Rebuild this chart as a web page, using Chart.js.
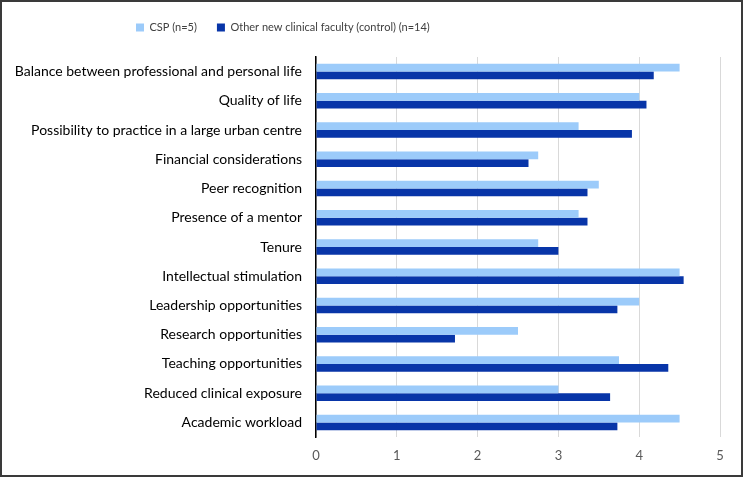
<!DOCTYPE html>
<html>
<head>
<meta charset="utf-8">
<script src="https://cdn.jsdelivr.net/npm/chart.js@4/dist/chart.umd.min.js"></script>
<style>
  html, body { margin: 0; padding: 0; background: #fff; }
  #wrap { position: relative; width: 743px; height: 477px; }
  #frame { position: absolute; left: 0; top: 0; right: 0; bottom: 0; border: 2px solid #3a3a3a; pointer-events: none; box-sizing: border-box; }
  canvas { position: absolute; left: 0; top: 0; }
</style>
</head>
<body>
<div id="wrap">
  <canvas id="chart" width="743" height="477"></canvas>
  <div id="frame"></div>
</div>
<script>
const categories = [
  'Balance between professional and personal life',
  'Quality of life',
  'Possibility to practice in a large urban centre',
  'Financial considerations',
  'Peer recognition',
  'Presence of a mentor',
  'Tenure',
  'Intellectual stimulation',
  'Leadership opportunities',
  'Research opportunities',
  'Teaching opportunities',
  'Reduced clinical exposure',
  'Academic workload'
];
const cspValues = [4.5, 4.0, 3.25, 2.75, 3.5, 3.25, 2.75, 4.5, 4.0, 2.5, 3.75, 3.0, 4.5];
const controlValues = [4.18, 4.09, 3.91, 2.63, 3.36, 3.36, 3.0, 4.55, 3.73, 1.72, 4.36, 3.64, 3.73];
const seriesNames = ['CSP (n=5)', 'Other new clinical faculty (control) (n=14)'];
const xTicks = [0, 1, 2, 3, 4, 5];

const FONT = 'Lato, "DejaVu Sans", sans-serif';

// legend sits higher than the plot and left of centre
const legendPlace = {
  id: 'legendPlace',
  beforeInit(chart) {
    const fit = chart.legend.fit;
    chart.legend.fit = function () {
      fit.call(this);
      this.height += 14;
    };
  },
  afterLayout(chart) {
    chart.legend.left = 116;
  }
};

new Chart(document.getElementById('chart'), {
  type: 'bar',
  data: {
    labels: categories,
    datasets: [{
      label: seriesNames[0],
      data: cspValues,
      backgroundColor: '#9ccbfa',
      barPercentage: 1,
      categoryPercentage: 0.53
    }, {
      label: seriesNames[1],
      data: controlValues,
      backgroundColor: '#0835a8',
      barPercentage: 1,
      categoryPercentage: 0.53
    }]
  },
  options: {
    indexAxis: 'y',
    responsive: false,
    animation: false,
    layout: { padding: { top: 2, left: 0, right: 23, bottom: 8 } },
    plugins: {
      legend: {
        position: 'top',
        align: 'start',
        labels: {
          boxWidth: 8,
          boxHeight: 8,
          padding: 20,
          color: '#404040',
          font: { family: FONT, size: 11 }
        }
      },
      tooltip: { enabled: false }
    },
    scales: {
      x: {
        min: 0,
        max: 5,
        afterBuildTicks(scale) {
          scale.ticks = xTicks.map(v => ({ value: v }));
        },
        afterFit(scale) { scale.height = 32; },
        grid: { color: '#d9d9d9', drawTicks: false },
        border: { display: false },
        ticks: { padding: 11, color: '#595959', font: { family: FONT, size: 13 } }
      },
      y: {
        afterFit(scale) { scale.width = 316; },
        grid: { display: false, drawTicks: false },
        border: { display: true, color: '#000', width: 1.5 },
        ticks: { padding: 14, color: '#000', autoSkip: false, font: { family: FONT, size: 14 } }
      }
    }
  },
  plugins: [legendPlace]
});
</script>
</body>
</html>
